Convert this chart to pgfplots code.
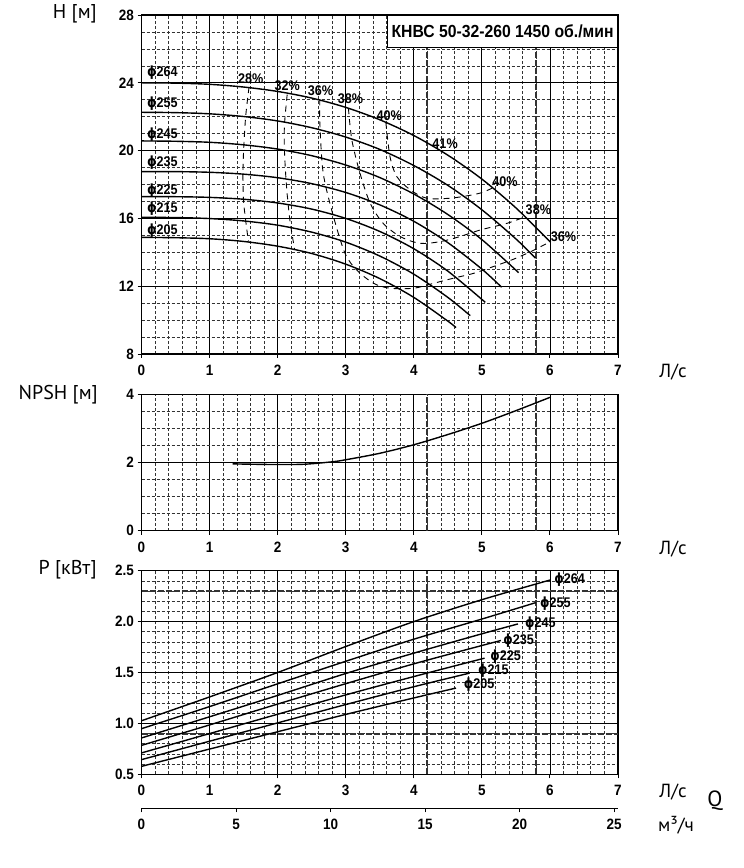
\documentclass[border=0pt]{standalone}
\usepackage{fontspec}
\usepackage{pgfplots}
\pgfplotsset{compat=1.18}
\setmainfont{Liberation Sans}
\newfontfamily\tickf{Liberation Sans}[FakeStretch=0.9]
\newfontfamily\labf{PT Sans}
\newfontfamily\phif{DejaVu Sans}[FakeStretch=0.85]
\newcommand\tf{\tickf\bfseries\fontsize{14}{14}\selectfont}
\newcommand\tkf{\tickf\bfseries\fontsize{15}{15}\selectfont}
\newcommand\ph{{\phif\bfseries ϕ}}
\newcommand\lf{\labf\fontsize{20}{20}\selectfont}
\tikzset{
  clab/.style={font=\tf, anchor=west, inner sep=0pt},
  plab/.style={font=\tf, inner sep=0pt},
}
\begin{document}
\begin{tikzpicture}[x=1pt,y=1pt]
\path[use as bounding box] (0pt,0pt) rectangle (744pt,868pt);
\pgfplotsset{
  chart/.style={
    scale only axis, width=476.5pt, anchor=south west,
    xmin=0, xmax=7, xtick={0,1,...,7}, minor x tick num=4,
    grid=both,
    major grid style={black, line width=0.8pt},
    minor grid style={black!80, line width=0.6pt, dash pattern=on 3pt off 2pt},
    axis line style={black, line width=1.1pt},
    tick pos=left,
    tick align=outside, major tick length=4pt, minor tick length=0pt,
    tick style={black, line width=0.9pt},
    tick label style={font=\tkf},
    xticklabel style={yshift=-3pt, text height=11pt, text depth=0pt},
    /pgf/number format/assume math mode=true,
    clip=false,
  },
  crv/.style={black, line width=1.4pt, smooth, no marks},
  eff/.style={black, line width=0.9pt, dash pattern=on 6pt off 5pt, smooth, no marks},
  hvy/.style={black!80, line width=1.9pt, dash pattern=on 6pt off 2pt, no marks},
}

% ---------- H(Q) ----------
\begin{axis}[chart, at={(141.5pt,514pt)}, height=339pt,
  ymin=8, ymax=28, ytick={8,12,16,20,24,28}, minor y tick num=3]
\addplot[hvy] coordinates {(4.2,8) (4.2,28)};
\addplot[hvy] coordinates {(5.8,8) (5.8,28)};
% efficiency lines
\addplot[eff] coordinates {(1.58,23.75)(1.53,22.0)(1.50,20.0)(1.49,18.5)(1.50,17.0)(1.53,15.9)(1.57,14.65)};
\addplot[eff] coordinates {(2.14,23.30)(2.10,21.5)(2.10,20.0)(2.13,17.9)(2.18,15.9)(2.25,14.15)};
\addplot[eff] coordinates {(2.62,23.02)(2.62,21.61)(2.67,18.66)(2.82,16.11)(2.99,13.94)(3.16,12.96)(3.41,12.17)(3.65,11.88)(4.0,11.88)(4.29,12.17)(4.58,12.47)(4.88,12.76)(5.17,13.16)(5.47,13.60)(5.75,14.10)(6.0,14.62)};
\addplot[eff] coordinates {(3.04,22.50)(3.09,20.63)(3.21,18.66)(3.36,16.89)(3.55,15.71)(3.80,14.93)(4.09,14.53)(4.39,14.63)(4.68,14.93)(4.98,15.32)(5.37,15.71)(5.64,16.10)};
\addplot[eff] coordinates {(3.59,21.65)(3.65,19.65)(3.75,18.47)(3.95,17.68)(4.19,17.19)(4.53,17.19)(4.85,17.38)(5.02,17.55)(5.17,17.82)};
% H curves
\addplot[crv] coordinates {(0,24.00)(0.5,23.98)(1,23.91)(1.5,23.75)(2,23.49)(2.5,23.10)(3,22.55)(3.5,21.82)(4,20.89)(4.5,19.73)(5,18.32)(5.5,16.62)(6.01,14.59)};
\addplot[crv] coordinates {(0,22.26)(0.5,22.24)(1,22.17)(1.5,22.01)(2,21.75)(2.5,21.35)(3,20.80)(3.5,20.07)(4,19.12)(4.5,17.95)(5,16.51)(5.5,14.79)(5.79,13.65)};
\addplot[crv] coordinates {(0,20.57)(0.5,20.55)(1,20.49)(1.5,20.34)(2,20.09)(2.5,19.70)(3,19.15)(3.5,18.41)(4,17.44)(4.5,16.23)(5,14.75)(5.54,12.80)};
\addplot[crv] coordinates {(0,18.76)(0.5,18.76)(1,18.72)(1.5,18.61)(2,18.40)(2.5,18.05)(3,17.53)(3.5,16.80)(4,15.83)(4.5,14.57)(5,13.01)(5.29,11.94)};
\addplot[crv] coordinates {(0,17.28)(0.5,17.28)(1,17.24)(1.5,17.13)(2,16.91)(2.5,16.55)(3,16.00)(3.5,15.23)(4,14.21)(4.5,12.89)(5.05,11.05)};
\addplot[crv] coordinates {(0,16.06)(0.5,16.05)(1,15.99)(1.5,15.85)(2,15.60)(2.5,15.19)(3,14.60)(3.5,13.78)(4,12.71)(4.5,11.34)(4.83,10.26)};
\addplot[crv] coordinates {(0,14.88)(0.5,14.86)(1,14.80)(1.5,14.64)(2,14.36)(2.5,13.93)(3,13.30)(3.5,12.45)(4,11.34)(4.5,9.94)(4.62,9.56)};
% labels
\node[clab] at (axis cs:0.08,24.58) {\ph264};
\node[clab] at (axis cs:0.08,22.75) {\ph255};
\node[clab] at (axis cs:0.08,20.92) {\ph245};
\node[clab] at (axis cs:0.08,19.27) {\ph235};
\node[clab] at (axis cs:0.08,17.65) {\ph225};
\node[clab] at (axis cs:0.08,16.55) {\ph215};
\node[clab] at (axis cs:0.08,15.26) {\ph205};
\node[plab] at (axis cs:1.605,24.22) {28\%};
\node[plab] at (axis cs:2.14,23.85) {32\%};
\node[plab] at (axis cs:2.63,23.55) {36\%};
\node[plab] at (axis cs:3.07,23.04) {38\%};
\node[plab] at (axis cs:3.64,22.08) {40\%};
\node[plab] at (axis cs:4.46,20.41) {41\%};
\node[plab] at (axis cs:5.34,18.15) {40\%};
\node[plab] at (axis cs:5.83,16.53) {38\%};
\node[plab] at (axis cs:6.20,14.92) {36\%};
\node[draw=black, line width=0.9pt, fill=white, anchor=north east, minimum width=230pt, minimum height=32pt, inner sep=0pt, font=\tickf\bfseries\fontsize{17.5}{17.5}\selectfont] at (rel axis cs:1,1) {КНВС 50-32-260 1450 об./мин};
\end{axis}

% ---------- NPSH ----------
\begin{axis}[chart, at={(141.5pt,337.3pt)}, height=136.4pt,
  ymin=0, ymax=4, ytick={0,2,4}, minor y tick num=3]
\addplot[hvy] coordinates {(4.2,0) (4.2,4)};
\addplot[hvy] coordinates {(5.8,0) (5.8,4)};
\addplot[crv] coordinates {(1.34,1.96)(1.6,1.95)(2.0,1.94)(2.4,1.95)(2.8,2.02)(3.0,2.08)(3.5,2.27)(4.0,2.52)(4.5,2.82)(5.0,3.15)(5.5,3.52)(6.0,3.91)};
\end{axis}

% ---------- P(Q) ----------
\begin{axis}[chart, at={(141.5pt,93.7pt)}, height=203.6pt,
  ymin=0.5, ymax=2.5, ytick={0.5,1,1.5,2,2.5}, minor y tick num=4,
  yticklabel style={/pgf/number format/.cd, fixed, fixed zerofill, precision=1}]
\addplot[hvy] coordinates {(4.2,0.5) (4.2,2.5)};
\addplot[hvy] coordinates {(5.8,0.5) (5.8,2.5)};
\addplot[hvy] coordinates {(0,2.3) (7,2.3)};
\addplot[hvy] coordinates {(0,0.9) (7,0.9)};
\addplot[crv] coordinates {(0,1.026)(1,1.26)(2,1.50)(3,1.755)(4,2.0)(5,2.215)(6.01,2.41)};
\addplot[crv] coordinates {(0,0.948)(1,1.165)(2,1.389)(3,1.61)(4,1.827)(5,2.025)(5.79,2.186)};
\addplot[crv] coordinates {(0,0.857)(1,1.065)(2,1.275)(3,1.49)(4,1.69)(5,1.88)(5.53,1.977)};
\addplot[crv] coordinates {(0,0.784)(1,0.985)(2,1.19)(3,1.39)(4,1.585)(5,1.765)(5.28,1.814)};
\addplot[crv] coordinates {(0,0.71)(1,0.90)(2,1.09)(3,1.28)(4,1.46)(5.04,1.641)};
\addplot[crv] coordinates {(0,0.644)(1,0.825)(2,1.005)(3,1.185)(4,1.36)(4.82,1.494)};
\addplot[crv] coordinates {(0,0.578)(1,0.748)(2,0.918)(3,1.088)(4,1.25)(4.62,1.347)};
\node[plab] at (axis cs:6.29,2.41) {\ph264};
\node[plab] at (axis cs:6.08,2.174) {\ph255};
\node[plab] at (axis cs:5.86,1.984) {\ph245};
\node[plab] at (axis cs:5.54,1.814) {\ph235};
\node[plab] at (axis cs:5.35,1.657) {\ph225};
\node[plab] at (axis cs:5.17,1.52) {\ph215};
\node[plab] at (axis cs:4.96,1.382) {\ph205};
\end{axis}

% ---------- m3/h axis ----------
\begin{axis}[scale only axis, width=476.5pt, height=10pt, at={(141.5pt,59.7pt)}, anchor=south west,
  xmin=0, xmax=25.2, ymin=0, ymax=1,
  axis x line*=bottom, axis y line=none,
  axis line style={-, black, line width=1.1pt},
  xtick={0,5,10,15,20,25}, ytick=\empty,
  tick align=outside, major tick length=4pt, minor tick length=0pt,
  tick style={black, line width=0.9pt},
  tick label style={font=\tkf}, xticklabel style={yshift=-3pt, text height=11pt, text depth=0pt},
  /pgf/number format/assume math mode=true]
\addplot[draw=none] coordinates {(0,0.5)(25,0.5)};
\end{axis}

% ---------- axis titles ----------
\node[font=\lf, anchor=east, inner sep=0pt] at (97pt,854pt) {H [м]};
\node[font=\lf, anchor=east, inner sep=0pt] at (98pt,473pt) {NPSH [м]};
\node[font=\lf, anchor=east, inner sep=0pt] at (97pt,298pt) {P [кВт]};
\node[font=\labf\fontsize{19}{19}\selectfont, inner sep=0pt] at (673pt,496pt) {Л/с};
\node[font=\labf\fontsize{19}{19}\selectfont, inner sep=0pt] at (673pt,319pt) {Л/с};
\node[font=\labf\fontsize{19}{19}\selectfont, inner sep=0pt] at (673pt,75.5pt) {Л/с};
\node[font=\labf\fontsize{22}{22}\selectfont, inner sep=0pt] at (715pt,67pt) {Q};
\node[font=\labf\fontsize{19}{19}\selectfont, inner sep=0pt] at (676pt,43pt) {м³/ч};
\end{tikzpicture}
\end{document}
